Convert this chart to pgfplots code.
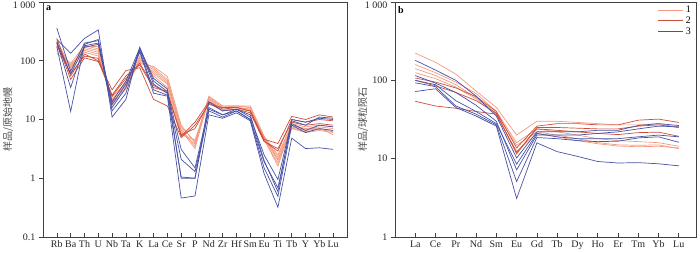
\documentclass[border=0pt]{standalone}
\usepackage{pgfplots}
\pgfplotsset{compat=1.18}
\usepackage{pgfplotstable}
\usepackage{fontspec}
\setmainfont{Liberation Serif}
\newfontfamily\cjk{Noto Sans CJK SC}
\definecolor{cS}{RGB}{243,155,128}
\definecolor{cR}{RGB}{204,78,58}
\definecolor{cB}{RGB}{72,82,165}

\pgfplotstableread{
x S1 S2 S3 S4 S5 S6 R1 R2 R3 B1 B2 B3 B4 B5
0 134 170 200 180 150 220 210 240 190 230 360 210 175 200
1 85 80 75 70 90 78 48 55 60 134 66 35 13.7 60
2 150 170 160 140 180 175 112 130 120 240 200 180 190 170
3 130 150 140 120 160 175 97 100 110 335 220 200 230 190
4 22 20 19 24 21 18 32 26 25 11 16 14 18 20
5 40 35 38 42 45 33 68 55 50 22 35 28 40 45
6 90 100 110 120 95 105 76 85 90 170 160 150 140 165
7 80 70 60 55 65 75 22 35 38 45 40 32 28 50
8 54 45 40 35 42 48 17 30 28 30 28 26 25 33
9 8 7 6 5.5 6.5 7.5 4.9 5.2 5.5 3.1 2.1 1.05 0.46 1.0
10 4 3.5 3.8 4.5 3.2 4.2 8 9 7 1.5 1.3 1.0 0.5 1.0
11 25 23 21 22 24 22 18 20 19 16 14 15 12 20
12 17 16 15 16 17 16 16 15 14 12 11 12 10.5 14
13 17 16 15 16 17 17 16 16 15 15 14 14 13 15
14 16 15 14 15 17 16 14 14 13 11 10 10 9.5 12
15 5 4.8 4.5 4.7 5.2 5 4.6 4.3 4.2 2.5 1.9 1.5 1.2 2
16 2.3 2.0 1.8 1.6 2.5 2.1 3.9 2.9 3.2 0.95 0.69 0.49 0.32 0.59
17 8 7.5 7 8 8.5 7.2 11.3 10 9 9.5 8.5 8 4.8 10
18 7 6.5 6 6.8 7.5 6.2 10 9 8 8 6.5 6 3.2 9
19 7.5 7 6.5 7.2 8 6.8 12 10 8.5 11 8 7 3.3 10.5
20 7 6.5 6 5.5 7.5 6.2 11 9.5 8 10.5 7.5 6.5 3.1 10
}\pmtab

\pgfplotstableread{
x S1 S2 S3 S4 R1 R2 R3 B1 B2 B3 B4 B5
0 222 159 141 125 107 54 100 180 115 93 72 100
1 170 125 115 105 95 47 85 135 92 83 78 88
2 120 95 88 82 80 44 70 100 70 47 45 55
3 73 68 60 58 62 40 55 63 48 37 35 40
4 45 40 38 36 40 37 38 35 30 27 26 28
5 20 16 14.8 12.4 13.7 12 11.5 10.2 7.2 5.1 3.1 8.5
6 30 24 22 21 26 24 25 22 20 18.6 15.9 21
7 30 22 20 19 28 23 25 22 20 18 12.3 19
8 29 20 18 17 28 22 24.5 22 20 17 10.7 18
9 28 18 16 15.5 27 21 24 23 21 16.5 9.2 18
10 27 17 15 14.5 27 20.3 24 23 22 16.7 8.8 18
11 27 16.5 14.8 14.2 31 21.5 26 26.5 24 18.4 8.9 19
12 28 16 15 14.4 32 21.8 27 28 26 19 8.6 20
13 25 14.4 13.4 13.7 29 19.3 25 26.5 25.5 16.2 8.1 19
}\reetab

\begin{document}
\begin{tikzpicture}
\path[use as bounding box] (0,0) rectangle (700pt,253pt);

\begin{axis}[ymode=log, scale only axis, height=235pt,
  axis line style={line width=0.8pt, black!75},
  major tick style={black!75, line width=0.6pt},
  major tick length=4pt,
  minor y tick style={draw=none},
  xtick align=inside, ytick align=outside,
  xtick pos=bottom, ytick pos=left,
  tick label style={font=\fontsize{10}{12}\selectfont, text=black!85},
  clip=false,
  at={(43pt,16pt)}, anchor=south west, width=304pt,
  xmin=-1, xmax=21, ymin=0.1, ymax=1000,
  xtick={0,...,20},
  xticklabels={Rb,Ba,Th,U,Nb,Ta,K,La,Ce,Sr,P,Nd,Zr,Hf,Sm,Eu,Ti,Tb,Y,Yb,Lu},
  ytick={0.1,1,10,100},
  yticklabels={0.1,1,10,100},
  extra y ticks={1000},
  extra y tick labels={1\hspace{2.5pt}000},
  extra y tick style={yticklabel style={yshift=-3pt}},
]
\addplot[cS, line width=0.7pt, mark=none] table[x=x,y=S1]{\pmtab};
\addplot[cS, line width=0.7pt, mark=none] table[x=x,y=S2]{\pmtab};
\addplot[cS, line width=0.7pt, mark=none] table[x=x,y=S3]{\pmtab};
\addplot[cS, line width=0.7pt, mark=none] table[x=x,y=S4]{\pmtab};
\addplot[cS, line width=0.7pt, mark=none] table[x=x,y=S5]{\pmtab};
\addplot[cS, line width=0.7pt, mark=none] table[x=x,y=S6]{\pmtab};
\addplot[cR, line width=0.7pt, mark=none] table[x=x,y=R1]{\pmtab};
\addplot[cR, line width=0.7pt, mark=none] table[x=x,y=R2]{\pmtab};
\addplot[cR, line width=0.7pt, mark=none] table[x=x,y=R3]{\pmtab};
\addplot[cB, line width=0.7pt, mark=none] table[x=x,y=B1]{\pmtab};
\addplot[cB, line width=0.7pt, mark=none] table[x=x,y=B2]{\pmtab};
\addplot[cB, line width=0.7pt, mark=none] table[x=x,y=B3]{\pmtab};
\addplot[cB, line width=0.7pt, mark=none] table[x=x,y=B4]{\pmtab};
\addplot[cB, line width=0.7pt, mark=none] table[x=x,y=B5]{\pmtab};
\node[anchor=north west, font=\bfseries\fontsize{10}{12}\selectfont, inner sep=0pt] at ([xshift=3pt,yshift=-4pt]rel axis cs:0,1) {a};
\node[rotate=90, font=\cjk\fontsize{10}{12}\selectfont, text=black!70] at ([xshift=-35pt]rel axis cs:0,0.5) {样品/原始地幔};
\end{axis}

\begin{axis}[ymode=log, scale only axis, height=235pt,
  axis line style={line width=0.8pt, black!75},
  major tick style={black!75, line width=0.6pt},
  major tick length=4pt,
  minor y tick style={draw=none},
  xtick align=inside, ytick align=outside,
  xtick pos=bottom, ytick pos=left,
  tick label style={font=\fontsize{10}{12}\selectfont, text=black!85},
  clip=false,
  at={(395pt,16pt)}, anchor=south west, width=301pt,
  xmin=-1, xmax=13.85, ymin=1, ymax=1000,
  xtick={0,...,13},
  xticklabels={La,Ce,Pr,Nd,Sm,Eu,Gd,Tb,Dy,Ho,Er,Tm,Yb,Lu},
  ytick={1,10,100},
  yticklabels={1,10,100},
  extra y ticks={1000},
  extra y tick labels={1\hspace{2.5pt}000},
  extra y tick style={yticklabel style={yshift=-3pt}},
  legend style={draw=none, fill=none, at={(1,1)}, anchor=north east, font=\fontsize{10}{11}\selectfont, row sep=-1.5pt, inner xsep=3pt, inner ysep=2pt},
  legend cell align=left,
  legend image code/.code={\draw[#1] (0pt,0pt) -- (25pt,0pt);},
]
\addlegendimage{cS, line width=0.8pt}\addlegendentry{1}
\addlegendimage{cR, line width=0.8pt}\addlegendentry{2}
\addlegendimage{cB, line width=0.8pt}\addlegendentry{3}
\addplot[cS, line width=0.7pt, mark=none, forget plot] table[x=x,y=S1]{\reetab};
\addplot[cS, line width=0.7pt, mark=none, forget plot] table[x=x,y=S2]{\reetab};
\addplot[cS, line width=0.7pt, mark=none, forget plot] table[x=x,y=S3]{\reetab};
\addplot[cS, line width=0.7pt, mark=none, forget plot] table[x=x,y=S4]{\reetab};
\addplot[cR, line width=0.7pt, mark=none, forget plot] table[x=x,y=R1]{\reetab};
\addplot[cR, line width=0.7pt, mark=none, forget plot] table[x=x,y=R2]{\reetab};
\addplot[cR, line width=0.7pt, mark=none, forget plot] table[x=x,y=R3]{\reetab};
\addplot[cB, line width=0.7pt, mark=none, forget plot] table[x=x,y=B1]{\reetab};
\addplot[cB, line width=0.7pt, mark=none, forget plot] table[x=x,y=B2]{\reetab};
\addplot[cB, line width=0.7pt, mark=none, forget plot] table[x=x,y=B3]{\reetab};
\addplot[cB, line width=0.7pt, mark=none, forget plot] table[x=x,y=B4]{\reetab};
\addplot[cB, line width=0.7pt, mark=none, forget plot] table[x=x,y=B5]{\reetab};
\node[anchor=north west, font=\bfseries\fontsize{10}{12}\selectfont, inner sep=0pt] at ([xshift=3pt,yshift=-4pt]rel axis cs:0,1) {b};
\node[rotate=90, font=\cjk\fontsize{10}{12}\selectfont, text=black!70] at ([xshift=-32pt]rel axis cs:0,0.5) {样品/球粒陨石};
\end{axis}
\end{tikzpicture}
\end{document}
